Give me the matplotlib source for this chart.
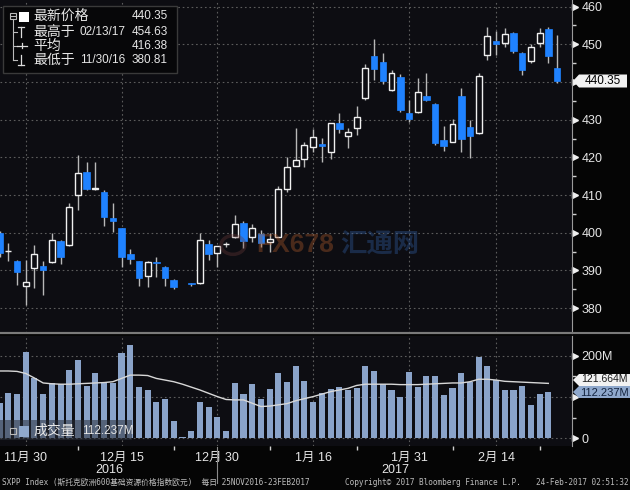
import numpy as np
import matplotlib
matplotlib.use("Agg")
import matplotlib.pyplot as plt
import matplotlib.transforms as mtransforms
from matplotlib.patches import Rectangle, Polygon, Circle
from matplotlib.lines import Line2D

plt.rcParams['font.family'] = ['Liberation Sans', 'Noto Sans CJK SC', 'DejaVu Sans']

# ---- data (SXPP Index, daily, 25NOV2016 - 23FEB2017) ----
opens = [400.0, 395.1, 392.6, 386.0, 390.6, 391.2, 392.2, 397.9, 396.8, 410.0,
         416.1, 411.5, 410.9, 403.9, 401.2, 394.5, 392.5, 388.6, 392.3, 391.0,
         387.6, np.nan, 386.7, 386.6, 397.0, 394.7, 396.9, 398.8, 402.7, 398.8,
         399.7, 397.5, 399.0, 411.7, 417.7, 419.7, 422.7, 423.6, 421.3, 429.2,
         425.7, 427.7, 435.8, 447.0, 445.2, 437.9, 441.4, 431.9, 432.1, 436.3,
         434.1, 424.6, 424.2, 436.3, 428.0, 426.4, 447.1, 451.0, 450.4, 453.1,
         447.8, 445.7, 450.4, 454.1, 443.6]
highs = [400.5, 397.2, 392.8, 392.8, 396.8, 392.4, 399.9, 398.2, 407.8, 420.6,
         418.9, 418.9, 411.3, 408.0, 401.3, 395.6, 392.6, 392.4, 393.6, 391.1,
         387.7, np.nan, 386.8, 399.9, 398.1, 396.6, 397.6, 404.7, 403.2, 402.3,
         400.7, 399.9, 412.4, 420.2, 427.9, 424.2, 427.5, 425.1, 429.2, 431.9,
         427.7, 433.6, 444.9, 451.4, 447.6, 443.2, 442.0, 435.2, 441.0, 442.3,
         434.3, 428.2, 430.1, 438.3, 429.9, 442.5, 454.63, 453.4, 454.2, 453.3,
         448.0, 450.1, 454.2, 454.5, 452.5]
lows = [393.5, 392.4, 386.1, 380.81, 385.3, 383.5, 392.0, 391.6, 396.6, 406.0,
        411.3, 411.4, 401.8, 400.3, 391.0, 391.6, 385.9, 385.7, 388.4, 385.9,
        385.0, np.nan, 386.0, 386.5, 392.8, 391.0, 396.3, 398.5, 395.9, 397.6,
        396.3, 395.0, 398.8, 410.9, 417.6, 417.4, 421.5, 418.9, 419.7, 426.6,
        422.4, 425.9, 435.2, 440.5, 439.4, 437.6, 432.1, 429.5, 431.9, 435.0,
        423.3, 421.8, 424.0, 421.5, 419.8, 426.2, 445.8, 447.2, 449.4, 447.6,
        441.9, 445.1, 449.4, 445.0, 439.7]
closes = [394.7, 395.3, 389.5, 386.9, 394.5, 390.0, 398.1, 393.7, 406.8, 415.8,
          411.5, 411.8, 404.3, 403.1, 393.7, 393.0, 387.9, 392.2, 392.0, 387.9,
          385.7, np.nan, 386.3, 398.1, 394.5, 396.5, 397.1, 402.3, 397.7, 401.4,
          397.2, 398.3, 411.5, 417.4, 419.3, 423.2, 425.5, 423.1, 429.0, 427.4,
          426.8, 430.8, 443.8, 443.4, 440.3, 442.5, 432.6, 430.1, 437.4, 435.2,
          423.7, 423.0, 428.8, 425.0, 425.7, 441.6, 452.2, 450.1, 452.6, 448.3,
          443.2, 449.2, 453.1, 446.9, 440.35]

# volume in millions (last session has no bar yet)
volume = [84.7, 109, 106.5, 209.8, 146.9, 106.5, 133.2, 130.7, 165.5, 189.7,
          127.5, 157.4, 133.2, 133.2, 205.8, 226, 125.1, 117, 88.8, 95.2,
          42, 4, 17.8, 88.8, 76.7, 52.5, 17.8, 133.2, 106.5, 130.7,
          95.2, 119.5, 157.4, 137.2, 175.1, 139.6, 88.8, 109, 119.5, 125.1,
          117, 121.1, 176, 163, 130.7, 117, 100.9, 159.8, 125.1, 150,
          150, 104.9, 122.7, 158, 137.2, 197.7, 176, 140, 118, 117,
          126, 81.5, 107, 112.237, np.nan]
vol_avg = [163, 163, 162, 157, 146, 134, 132, 131, 131, 132,
           133, 134, 135, 137, 145, 153, 153, 152, 145, 141,
           137, 131, 124, 117, 109, 101, 94, 93, 93, 85,
           77, 78, 81, 84, 91, 96, 101, 107, 113, 117,
           121, 128, 131, 131, 131, 131, 130, 130, 130, 131,
           132, 133, 134, 134, 137, 143, 143, 141, 138, 137,
           136, 135, 134, 133]

date_ticks = [3, 14, 25, 36, 47, 57]
date_labels = ["11月 30", "12月 15", "12月 30", "1月 16", "1月 31", "2月 14"]
minor_ticks = [9, 20, 31, 41, 52, 62]
price_ticks = [380, 390, 400, 410, 420, 430, 440, 450, 460]
# 440 and 100M sit under the value tags on the original
price_labels = ["380", "390", "400", "410", "420", "430", "", "450", "460"]
vol_ticks = [0, 100, 200]
vol_labels = ["0", "", "200M"]

W, H = 630, 490
def fx(x):
    return x / W
def fy(y):
    return 1 - y / H

BG = '#0d0d12'
BLUE = '#1f82ff'
WICK = '#b8b8b8'
GRID = '#5c5c5c'
TXT = '#e6e6e6'
VOLC = '#8aa3c9'

fig = plt.figure(figsize=(6.3, 4.9), dpi=100, facecolor='#050505')
ax = fig.add_axes([0, fy(333), fx(572), 333 / H], facecolor=BG)
axv = fig.add_axes([0, fy(446), fx(572), (446 - 336) / H], facecolor=BG)

o = np.array(opens); h = np.array(highs); l = np.array(lows); c = np.array(closes)
x = np.arange(len(o))
up = c >= o
body_lo = np.minimum(o, c)
body_h = np.maximum(np.abs(c - o), 0.2)

ax.vlines(x, l, h, color=WICK, lw=1, zorder=2)
ax.bar(x[up], body_h[up], bottom=body_lo[up], width=0.68, color=BG,
       edgecolor='#f0f0f0', lw=1, zorder=3)
ax.bar(x[~up], body_h[~up], bottom=body_lo[~up], width=0.76, color=BLUE,
       edgecolor=BLUE, lw=0.5, zorder=3)

ax.set_xlim(0.046, 65.72)
ax.set_ylim(373.42, 461.75)
for p in price_ticks:
    ax.axhline(p, color=GRID, lw=0.8, ls=(0, (1.5, 2.5)), zorder=1)
for d in date_ticks:
    ax.axvline(d, color=GRID, lw=0.8, ls=(0, (1.5, 2.5)), zorder=1)

ax.yaxis.tick_right()
ax.set_yticks(price_ticks)
ax.set_yticklabels(price_labels)
ax.set_yticks(np.arange(385, 460, 10), minor=True)
ax.tick_params(axis='y', which='major', length=0, pad=7, labelsize=9, labelcolor=TXT)
ax.tick_params(axis='y', which='minor', length=3, color='#d0d0d0', width=1)
ax.tick_params(axis='x', bottom=False, labelbottom=False)
for s in ['top', 'left']:
    ax.spines[s].set_visible(False)
ax.spines['right'].set_color('#9a9a9a')
ax.spines['bottom'].set_color('#7a7a7a')
ax.spines['bottom'].set_linewidth(1.5)
tr = mtransforms.blended_transform_factory(ax.transAxes, ax.transData)
ax.plot([1.006] * len(price_ticks), price_ticks, ls='none', marker='>', ms=4,
        color='#f0f0f0', transform=tr, clip_on=False)

# last price tag
fig.add_artist(Polygon([(fx(573), fy(81)), (fx(579), fy(74.5)), (fx(627), fy(74.5)),
                        (fx(627), fy(87.5)), (fx(579), fy(87.5))],
                       closed=True, transform=fig.transFigure, fc='#f2f2f2', ec='none'))
fig.text(fx(603), fy(81), "440.35", fontsize=8.5, color='#000000', ha='center', va='center')

# volume panel
vol = np.array(volume)
axv.bar(x, vol, width=0.7, color=VOLC, zorder=2)
axv.plot(np.arange(len(vol_avg)), vol_avg, color='#d8d8d8', lw=1, zorder=3)
axv.set_xlim(0.046, 65.72)
axv.set_ylim(-18.6, 247.7)
for v in vol_ticks:
    axv.axhline(v, color=GRID, lw=0.8, ls=(0, (1.5, 2.5)), zorder=1)
for d in date_ticks:
    axv.axvline(d, color=GRID, lw=0.8, ls=(0, (1.5, 2.5)), zorder=1)
axv.yaxis.tick_right()
axv.set_yticks(vol_ticks)
axv.set_yticklabels(vol_labels)
axv.set_yticks([50, 150], minor=True)
axv.tick_params(axis='y', which='major', length=0, pad=7, labelsize=9, labelcolor=TXT)
axv.tick_params(axis='y', which='minor', length=3, color='#d0d0d0', width=1)
axv.set_xticks(date_ticks)
axv.set_xticklabels(date_labels)
axv.set_xticks(minor_ticks, minor=True)
axv.tick_params(axis='x', which='major', length=0, pad=4, labelsize=9, labelcolor=TXT)
axv.tick_params(axis='x', which='minor', length=3, color='#d0d0d0', width=1)
for s in ['top', 'left', 'bottom']:
    axv.spines[s].set_visible(False)
axv.spines['right'].set_color('#9a9a9a')
trv = mtransforms.blended_transform_factory(axv.transAxes, axv.transData)
axv.plot([1.006] * 3, vol_ticks, ls='none', marker='>', ms=4,
         color='#f0f0f0', transform=trv, clip_on=False)

# volume value tags
fig.add_artist(Polygon([(fx(573), fy(380)), (fx(579), fy(374)), (fx(630), fy(374)),
                        (fx(630), fy(386)), (fx(579), fy(386))],
                       closed=True, transform=fig.transFigure, fc='#f2f2f2', ec='none'))
fig.text(fx(604), fy(379.5), "121.664M", fontsize=7.5, color='#1a1a1a', ha='center', va='center')
fig.add_artist(Polygon([(fx(573), fy(392)), (fx(579), fy(386)), (fx(630), fy(386)),
                        (fx(630), fy(398)), (fx(579), fy(398))],
                       closed=True, transform=fig.transFigure, fc='#8fa8cc', ec='none'))
fig.text(fx(604), fy(392.5), "112.237M", fontsize=8, color='#14243f', ha='center', va='center')

# panel separator
fig.add_artist(Line2D([0, 1], [fy(333.5), fy(333.5)], transform=fig.transFigure,
                      color='#7a7a7a', lw=1.5))

# price legend box
fig.add_artist(Rectangle((fx(3), fy(73)), fx(174), 67 / H, transform=fig.transFigure,
                         fc='#070709', ec='#3a3a3a', lw=1))
fig.add_artist(Rectangle((fx(9.5), fy(19)), fx(6), 6 / H, transform=fig.transFigure,
                         fc='none', ec='#bbbbbb', lw=0.8))
fig.add_artist(Line2D([fx(10.5), fx(14.5)], [fy(16), fy(16)], transform=fig.transFigure,
                      color='#bbbbbb', lw=0.8))
fig.add_artist(Rectangle((fx(19), fy(22)), fx(10), 10 / H, transform=fig.transFigure,
                         fc='#ffffff', ec='none'))
fig.add_artist(Line2D([fx(12.5), fx(12.5)], [fy(19), fy(60)], transform=fig.transFigure,
                      color='#bbbbbb', lw=0.8))
for yy in [32, 46, 60]:
    fig.add_artist(Line2D([fx(12.5), fx(17)], [fy(yy), fy(yy)], transform=fig.transFigure,
                          color='#bbbbbb', lw=0.8))
fig.add_artist(Line2D([fx(18), fx(24)], [fy(27), fy(27)], transform=fig.transFigure, color='#dddddd', lw=0.9))
fig.add_artist(Line2D([fx(21), fx(21)], [fy(27), fy(37)], transform=fig.transFigure, color='#dddddd', lw=0.9))
fig.add_artist(Line2D([fx(17), fx(27)], [fy(46), fy(46)], transform=fig.transFigure, color='#dddddd', lw=0.9))
fig.add_artist(Line2D([fx(22), fx(22)], [fy(43.5), fy(48.5)], transform=fig.transFigure, color='#dddddd', lw=0.9))
fig.add_artist(Line2D([fx(21), fx(21)], [fy(55), fy(65)], transform=fig.transFigure, color='#dddddd', lw=0.9))
fig.add_artist(Line2D([fx(18), fx(24)], [fy(65), fy(65)], transform=fig.transFigure, color='#dddddd', lw=0.9))

legend_rows = [(16, "最新价格", "", "440.35"),
               (32, "最高于", "02/13/17", "454.63"),
               (46, "平均", "", "416.38"),
               (60, "最低于", "11/30/16", "380.81")]
for yy, name, date, val in legend_rows:
    fig.text(fx(33), fy(yy), name, fontsize=10, color=TXT, va='center')
    if date:
        fig.text(fx(80), fy(yy), date, fontsize=8.5, color=TXT, va='center')
    fig.text(fx(168), fy(yy), val, fontsize=8.5, color=TXT, va='center', ha='right')

# volume legend
fig.add_artist(Rectangle((0, fy(440)), fx(132), 20 / H, transform=fig.transFigure,
                         fc='#2a2f3a', ec='none', alpha=0.55))
fig.add_artist(Rectangle((fx(9.5), fy(434)), fx(6), 6 / H, transform=fig.transFigure,
                         fc='none', ec='#bbbbbb', lw=0.8))
fig.add_artist(Rectangle((fx(19), fy(437)), fx(10), 11 / H, transform=fig.transFigure,
                         fc='#8fa8cc', ec='none'))
fig.text(fx(33), fy(431), "成交量", fontsize=10, color=TXT, va='center')
fig.text(fx(82), fy(431), "112.237M", fontsize=8.5, color=TXT, va='center')

# year labels and separator
fig.text(fx(109.5), fy(470), "2016", fontsize=9, color=TXT, ha='center', va='center')
fig.text(fx(395), fy(470), "2017", fontsize=9, color=TXT, ha='center', va='center')
fig.add_artist(Line2D([fx(217.3), fx(217.3)], [fy(447), fy(483)], transform=fig.transFigure,
                      color='#8a8a8a', lw=0.8))

# footer
foot_font = ['DejaVu Sans Mono', 'Noto Sans CJK SC']
fig.text(fx(2), fy(482.5), "SXPP Index (斯托克欧洲600基础资源价格指数欧元)  每日 25NOV2016-23FEB2017",
         fontsize=5.6, color='#bdbdbd', va='center', family=foot_font)
fig.text(fx(345), fy(482.5), "Copyright© 2017 Bloomberg Finance L.P.",
         fontsize=5.6, color='#bdbdbd', va='center', family=foot_font)
fig.text(fx(628), fy(482.5), "24-Feb-2017 02:51:32",
         fontsize=5.6, color='#bdbdbd', va='center', ha='right', family=foot_font)

# faint watermark
fig.add_artist(Circle((fx(233), fy(245)), 12 / W, transform=fig.transFigure, fc='none',
                      ec='#6a3a3a', lw=2.5, alpha=0.35))
fig.text(fx(295), fy(245), "FX678", fontsize=19, fontweight='bold', color='#a8582a',
         alpha=0.4, ha='center', va='center')
fig.text(fx(380), fy(245), "汇通网", fontsize=19, fontweight='bold', color='#2f5a9a',
         alpha=0.4, ha='center', va='center')

fig.savefig("out.png", dpi=100, facecolor=fig.get_facecolor())
